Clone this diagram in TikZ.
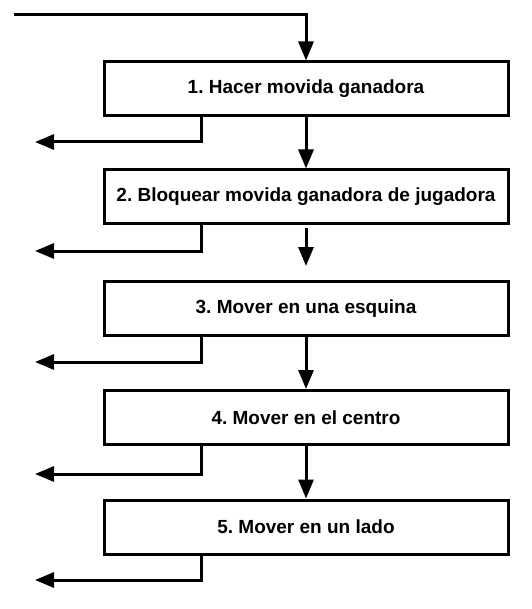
\documentclass[tikz,border=0pt]{standalone}
\usepackage{fontspec}
\setmainfont{Liberation Sans}
\usepackage{tikz}
\usetikzlibrary{positioning, arrows.meta}
\frenchspacing
\tikzset{
>={Triangle[length=19pt, width=15pt]}, % filled arrow heads
every node/.style={font=\fontsize{19}{22}\selectfont\bfseries},
paso/.style={draw, line width=3pt, minimum width=404pt, minimum height=54pt, inner sep=0pt}, % one step box
flecha/.style={->, line width=3pt}, % the connectors
}

\begin{document}
\begin{tikzpicture}[x=1pt, y=-1pt]
        \useasboundingbox (0,0) rectangle (531,609);

        \node[paso] (s1) at (306,89) {1. Hacer movida ganadora};
        \node[paso] (s2) at (306,197) {2. Bloquear movida ganadora de jugadora};
        \node[paso] (s3) at (306,308.5) {3. Mover en una esquina};
        \node[paso] (s4) at (306,417.5) {4. Mover en el centro};
        \node[paso] (s5) at (306,527) {5. Mover en un lado};

        % entry and exits
        \coordinate (inicio) at (14,15);
        \coordinate (o1) at (35,142);
        \coordinate (o2) at (35,251);
        \coordinate (o3) at (35,362);
        \coordinate (o4) at (35,474);
        \coordinate (o5) at (35,580);

        \draw[flecha] (inicio) -| (s1.north);
        \draw[flecha] (s1) -- (s2);
        \draw[flecha, shorten <=3pt, shorten >=14pt] (s2) -- (s3);
        \draw[flecha] (s3) -- (s4);
        \draw[flecha] (s4) -- (s5);

        \draw[flecha] (s1.south -| 201,0) |- (o1);
        \draw[flecha] (s2.south -| 201,0) |- (o2);
        \draw[flecha] (s3.south -| 201,0) |- (o3);
        \draw[flecha] (s4.south -| 201,0) |- (o4);
        \draw[flecha] (s5.south -| 201,0) |- (o5);
      \end{tikzpicture}
\end{document}
